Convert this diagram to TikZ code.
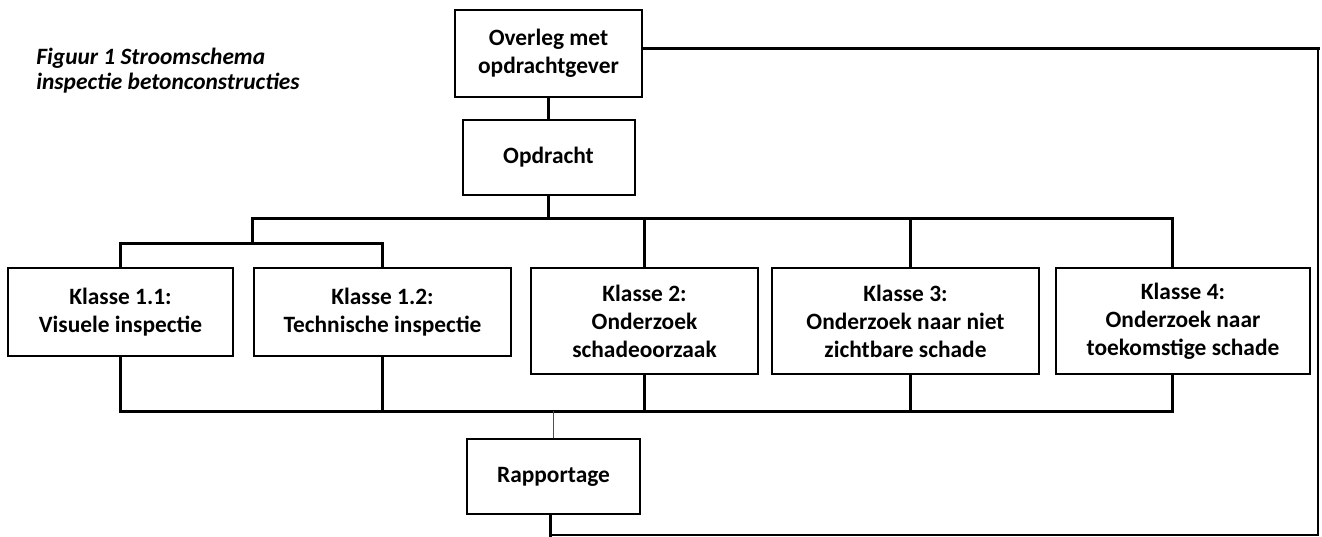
\documentclass[tikz,border=0pt]{standalone}
\usepackage{fontspec}
\setmainfont{Carlito}
\usepackage{tikz}
\usetikzlibrary{positioning,calc}
\definecolor{fcedge}{RGB}{0,0,0}
\definecolor{fcthin}{RGB}{80,80,80}
\tikzset{
  fcbox/.style={
    draw=fcedge, line width=1pt, align=center, inner sep=2pt,
    font=\fontsize{11.7}{14}\selectfont\bfseries
  },
  klasse/.style={fcbox, minimum height=44pt},
  onderzoek/.style={fcbox, minimum height=53pt},
  link/.style={draw=fcedge, line width=1.5pt, line cap=rect},
  retlink/.style={draw=fcedge, line width=1pt},
  feed/.style={draw=fcthin, line width=0.5pt},
  figcap/.style={
    font=\fontsize{11.7}{12.5}\selectfont\bfseries\itshape,
    align=left, inner sep=0pt
  },
  every picture/.append style={line join=miter}
}
\begin{document}
\begin{tikzpicture}[x=0.5pt, y=-0.5pt]
  \useasboundingbox (0,0) rectangle (1322,536);
  \node[figcap, anchor=north west] (title) at (36,48)
    {Figuur 1 Stroomschema\\inspectie betonconstructies};
  \node[fcbox, minimum width=93.5pt, minimum height=43.5pt] (overleg) at (548.5,53.5)
    {Overleg met\\opdrachtgever};
  \node[fcbox, minimum width=86pt, minimum height=37.5pt, below=10.5pt of overleg] (opdracht) {Opdracht};
  \node[klasse, minimum width=112.5pt, anchor=north west] (k11) at (7,267)
    {Klasse 1.1:\\Visuele inspectie};
  \node[klasse, minimum width=128.5pt, right=9.5pt of k11.north east, anchor=north west] (k12)
    {Klasse 1.2:\\Technische inspectie};
  \node[onderzoek, minimum width=113.5pt, right=9pt of k12.north east, anchor=north west] (k2)
    {Klasse 2:\\Onderzoek\\schadeoorzaak};
  \node[onderzoek, minimum width=133.5pt, right=6pt of k2.north east, anchor=north west] (k3)
    {Klasse 3:\\Onderzoek naar niet\\zichtbare schade};
  \node[onderzoek, minimum width=127pt, right=7.5pt of k3.north east, anchor=north west] (k4)
    {Klasse 4:\\Onderzoek naar\\toekomstige schade};
  % bus junctions
  \coordinate (hub) at (252,218);
  \coordinate (sub) at (252,243);
  \coordinate (base) at (553.5,411);
  \coordinate (k3drop) at ([xshift=2.25pt]k3.north);
  \coordinate (k4drop) at ([xshift=-5.5pt]k4.north);
  \coordinate (k3foot) at ([xshift=2.25pt]k3.south);
  \coordinate (k4foot) at ([xshift=-5.5pt]k4.south);
  \node[fcbox, minimum width=86.5pt, minimum height=37.5pt, below=13.5pt of base] (rapport) {Rapportage};
  \coordinate (ne) at (1318,48);
  \coordinate (sw) at (550,535);

  \draw[link] (overleg) -- (opdracht);
  \draw[link] (opdracht.south) -- (opdracht.south |- hub);
  \draw[link] (sub) -- (hub) -| (k4drop);
  \foreach \n in {k2.north, k3drop}
    \draw[link] (\n) -- (\n |- hub);
  \draw[link] (k11.north) |- (sub) -| (k12.north);
  \draw[link] (k11.south) |- (base) -| (k4foot);
  \foreach \n in {k12.south, k2.south, k3foot}
    \draw[link] (\n) -- (\n |- base);
  \draw[feed] (base) -- (rapport.north);
  % terugkoppeling
  \draw[link] (overleg.east |- ne) -- (ne);
  \draw[link] (rapport.south -| sw) -- (sw);
  \draw[retlink] (sw) -| (ne);
\end{tikzpicture}
\end{document}
